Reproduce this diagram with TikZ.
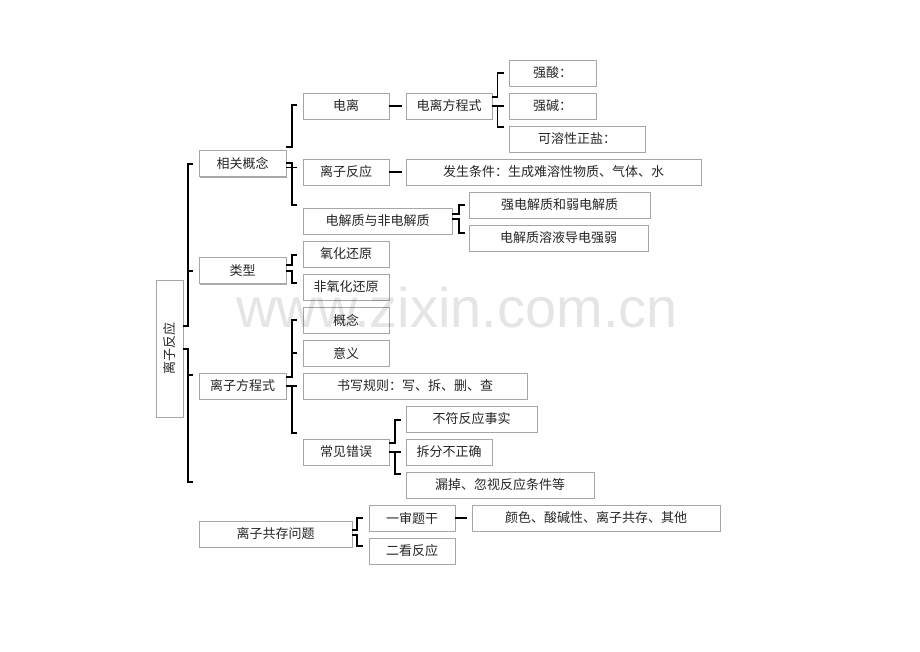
\documentclass[tikz,border=0pt]{standalone}
\usepackage{fontspec}
\setmainfont{Noto Sans CJK SC}
\newfontfamily\wmfont{Liberation Sans}
\usetikzlibrary{shadows}
\begin{document}
\begin{tikzpicture}[x=1pt,y=-1pt,
  box/.style={draw=black!35, fill=white, line width=0.7pt, inner sep=0pt, outer sep=0pt,
    drop shadow={shadow xshift=1.4pt, shadow yshift=-1.4pt, fill=black!55, opacity=0.6},
    font=\fontsize{13pt}{15pt}\selectfont, text=black!85},
  brace/.style={line width=1.7pt, line join=miter, draw=black},
  rtext/.style={font=\fontsize{13pt}{15pt}\selectfont, text=black!85, inner sep=0pt}]
\useasboundingbox[fill=white] (0,0) rectangle (920,651);
\newcommand\bx[6]{\node[box, minimum width=#4pt, minimum height=#5pt] (#1) at (#2,#3) {#6};}
% boxes
\node[box, minimum width=27pt, minimum height=137pt] (root) at (169.5,348.5) {};
\node[rtext, rotate=90] (roott) at (root.center) {离子反应};
\bx{xggn}{242.5}{163.5}{87}{26}{相关概念}
\bx{lx}{242.5}{270.5}{87}{26}{类型}
\bx{lzfcs}{242.5}{386}{87}{26}{离子方程式}
\bx{gcwt}{275.5}{534}{153}{26}{离子共存问题}
\bx{dl}{346}{106}{86}{26}{电离}
\bx{lzfy}{346}{172}{86}{26}{离子反应}
\bx{djz}{377.5}{221}{149}{26}{电解质与非电解质}
\bx{yhhy}{346}{254}{86}{26}{氧化还原}
\bx{fyhhy}{346}{287}{86}{26}{非氧化还原}
\bx{gn}{346}{320}{86}{26}{概念}
\bx{yy}{346}{353}{86}{26}{意义}
\bx{sxgz}{415}{386}{224}{26}{书写规则：写、拆、删、查}
\bx{cjcw}{346}{452}{86}{26}{常见错误}
\bx{dlfcs}{449}{106}{86}{26}{电离方程式}
\bx{qs}{552.5}{73}{87}{26}{强酸：}
\bx{qj}{552.5}{106}{87}{26}{强碱：}
\bx{krx}{577}{139}{136}{26}{可溶性正盐：}
\bx{fstj}{553.5}{172}{295}{26}{发生条件：生成难溶性物质、气体、水}
\bx{qdj}{559.5}{205}{181}{26}{强电解质和弱电解质}
\bx{djzrr}{558.5}{238}{179}{26}{电解质溶液导电强弱}
\bx{bfsh}{471.5}{419}{131}{26}{不符反应事实}
\bx{cfbzq}{449}{452}{86}{26}{拆分不正确}
\bx{ld}{500}{485}{188}{26}{漏掉、忽视反应条件等}
\bx{ysgt}{412}{518}{86}{26}{一审题干}
\bx{ys}{596}{518}{248}{26}{颜色、酸碱性、离子共存、其他}
\bx{ekfy}{412}{551}{86}{26}{二看反应}
% root brace
\draw[brace] (193,164) -| (188,326) -- (root.east |- 0,326);
\draw[brace] (188,271) -- (193,271);
\draw[brace] (root.east |- 0,349) -| (188,482) -- (193,482);
\draw[brace] (188,375) -- (193,375);
% xggn brace
\draw[brace] (297,105) -| (292,147) -- (xggn.east |- 0,147);
\draw[brace] (xggn.east |- 0,163) -| (292,205) -- (297,205);
\draw[brace] (xggn.east |- 0,167.5) -- (297,167.5);
% lx brace
\draw[brace] (297,255) -| (292,265) -- (lx.east |- 0,265);
\draw[brace] (lx.east |- 0,271) -| (292,283) -- (297,283);
% lzfcs brace
\draw[brace] (297,320) -| (292,377) -- (lzfcs.east |- 0,377);
\draw[brace] (292,353) -- (297,353);
\draw[brace] (lzfcs.east |- 0,386) -- (297,386);
\draw[brace] (292,386) |- (297,433);
% dlfcs brace
\draw[brace] (504,73) -| (497.5,97) -- (dlfcs.east |- 0,97);
\draw[brace] (dlfcs.east |- 0,106) -- (504,106);
\draw[brace] (497.5,106) |- (504,127);
% djz brace
\draw[brace] (465,205) -| (459,214) -- (djz.east |- 0,214);
\draw[brace] (djz.east |- 0,219) -| (459,233) -- (465,233);
% cjcw brace
\draw[brace] (401,420) -| (395,443) -- (cjcw.east |- 0,443);
\draw[brace] (cjcw.east |- 0,452) -- (401,452);
\draw[brace] (395,452) |- (401,474);
% gcwt brace
\draw[brace] (363,518) -| (357,530) -- (gcwt.east |- 0,530);
\draw[brace] (gcwt.east |- 0,535) -| (357,546) -- (363,546);
% simple connectors
\draw[brace] (dl.east) -- (402,106);
\draw[brace] (lzfy.east) -- (402,172);
\draw[brace] (ysgt.east) -- (467,518);
% watermark
\node[anchor=base west, inner sep=0pt, text=black, opacity=0.1,
  font=\wmfont\fontsize{56pt}{56pt}\selectfont] (wm) at (236,327) {www.zixin.com.cn};
\end{tikzpicture}
\end{document}
